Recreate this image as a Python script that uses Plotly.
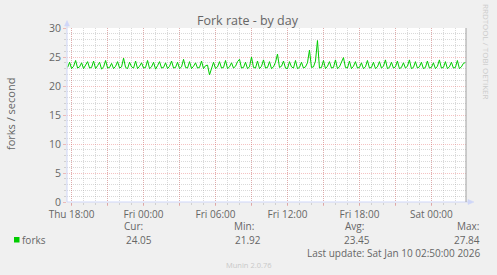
import pandas as pd
import plotly.graph_objects as go

# ---------------- data ----------------
start_time = "2026-01-08 17:40"
step = "10min"
forks = [
    23.2, 24.1, 23.0, 23.4, 24.4, 23.1, 23.3, 24.0, 23.0, 23.6,
    24.2, 23.1, 23.2, 24.3, 23.0, 23.5, 24.1, 22.9, 23.3, 24.4,
    23.1, 23.2, 23.9, 23.0, 23.4, 24.2, 23.1, 23.3, 24.8, 23.2,
    23.0, 24.1, 23.3, 23.1, 24.3, 23.0, 23.4, 24.0, 23.1, 23.2,
    24.4, 23.0, 23.3, 24.1, 22.9, 23.5, 24.2, 23.1, 23.2, 24.0,
    23.0, 23.4, 24.3, 23.1, 23.2, 24.1, 23.0, 23.3, 24.6, 23.2,
    23.1, 24.2, 23.0, 23.4, 24.0, 23.1, 23.2, 24.3, 23.0, 23.5,
    23.6, 21.92, 23.2, 24.1, 23.0, 23.3, 24.2, 23.1, 23.2, 24.4,
    23.0, 23.3, 24.0, 23.1, 23.4, 24.2, 24.6, 23.1, 23.2, 24.1,
    23.0, 23.3, 25.0, 23.2, 23.1, 24.3, 23.0, 23.4, 24.5, 23.1,
    23.2, 24.2, 23.0, 23.3, 24.1, 25.5, 23.2, 23.4, 24.3, 23.1,
    23.0, 24.2, 23.3, 23.1, 24.4, 23.0, 23.2, 24.1, 23.1, 23.3,
    24.0, 26.2, 23.2, 23.3, 24.3, 27.84, 23.1, 23.2, 24.4, 23.0,
    23.4, 24.2, 23.1, 23.2, 24.5, 23.0, 23.3, 24.1, 24.9, 23.2,
    23.1, 24.3, 23.0, 23.4, 24.2, 23.1, 23.2, 24.0, 23.0, 23.3,
    24.4, 23.1, 23.2, 24.1, 23.0, 23.3, 24.2, 23.1, 23.4, 24.5,
    23.0, 23.2, 24.1, 23.1, 23.3, 24.3, 23.0, 23.2, 24.0, 23.1,
    23.4, 24.5, 23.0, 23.2, 24.2, 23.1, 23.3, 24.1, 23.0, 23.2,
    24.3, 23.1, 23.2, 24.0, 23.0, 23.4, 24.5, 23.1, 23.2, 24.2,
    23.0, 23.3, 24.1, 23.1, 23.2, 24.4, 23.0, 23.3, 23.9, 24.05,
]
x_range = ["2026-01-08 17:37", "2026-01-10 02:53"]
major_ticks = ["2026-01-08 18:00", "2026-01-08 21:00", "2026-01-09 00:00",
               "2026-01-09 03:00", "2026-01-09 06:00", "2026-01-09 09:00",
               "2026-01-09 12:00", "2026-01-09 15:00", "2026-01-09 18:00",
               "2026-01-09 21:00", "2026-01-10 00:00"]
major_labels = ["Thu 18:00", "", "Fri 00:00", "", "Fri 06:00", "",
                "Fri 12:00", "", "Fri 18:00", "", "Sat 00:00"]
y_range = [0, 30]
series_name = "forks"
stat_names = ["Cur:", "Min:", "Avg:", "Max:"]
stat_values = ["24.05", "21.92", "23.45", "27.84"]
title = "Fork rate - by day"
y_title = "forks / second"
last_update = "Last update: Sat Jan 10 02:50:00 2026"
footer = "Munin 2.0.76"
watermark = "RRDTOOL / TOBI OETIKER"

times = pd.date_range(start=start_time, periods=len(forks), freq=step)

# ---------------- geometry ----------------
W, H = 497, 275
L, R, T, B = 67, 466, 28, 202
FONT = "Open Sans"
FC = "#666666"
AXIS = "#CFD6F8"
MAJOR = "rgba(230,110,110,0.42)"
MINOR = "rgba(160,160,160,0.40)"


def px(x):
    return (x - L) / (R - L)


def py(y):
    return (B - y) / (B - T)


fig = go.Figure()
fig.add_trace(go.Scatter(x=times, y=forks, mode="lines", name=series_name,
                         line=dict(color="#00CC00", width=1), hoverinfo="skip"))

fig.update_layout(
    width=W, height=H,
    margin=dict(l=L, r=W - R, t=T, b=H - B),
    paper_bgcolor="#F0F0F0", plot_bgcolor="#FFFFFF",
    showlegend=False,
    font=dict(family=FONT, size=10, color=FC),
)

fig.update_xaxes(
    type="date", range=x_range,
    tickmode="array", tickvals=major_ticks, ticktext=major_labels,
    showgrid=True, gridcolor=MAJOR, griddash="1px,1px", gridwidth=1,
    ticks="outside", ticklen=3, tickcolor=MAJOR, tickwidth=1,
    minor=dict(dtick=3600000, tick0="2026-01-08 18:00", showgrid=True,
               gridcolor=MINOR, griddash="1px,1px", gridwidth=1,
               ticks="outside", ticklen=2, tickcolor=MINOR),
    showline=False, zeroline=False,
    tickfont=dict(family=FONT, size=10, color=FC),
)
fig.update_yaxes(
    range=y_range, dtick=5, tick0=0,
    showgrid=True, gridcolor=MAJOR, griddash="1px,1px", gridwidth=1,
    ticks="outside", ticklen=3, tickcolor=MAJOR, tickwidth=1,
    minor=dict(dtick=1, showgrid=True, gridcolor=MINOR, griddash="1px,1px",
               gridwidth=1, ticks="outside", ticklen=2, tickcolor=MINOR),
    showline=False, zeroline=False,
    tickfont=dict(family=FONT, size=10.5, color=FC),
)

shapes = [
    # x axis line + arrow
    dict(type="line", xref="paper", yref="paper", x0=px(L), x1=px(470),
         y0=py(B), y1=py(B), line=dict(color=AXIS, width=1)),
    dict(type="path", xref="paper", yref="paper",
         path=f"M {px(468)} {py(199.5)} L {px(474)} {py(B)} L {px(468)} {py(204.5)} Z",
         fillcolor=AXIS, line=dict(color=AXIS, width=0.5)),
    # y axis line + arrow
    dict(type="line", xref="paper", yref="paper", x0=px(L), x1=px(L),
         y0=py(B), y1=py(24), line=dict(color=AXIS, width=1)),
    dict(type="path", xref="paper", yref="paper",
         path=f"M {px(64.5)} {py(26)} L {px(L)} {py(20.5)} L {px(69.5)} {py(26)} Z",
         fillcolor=AXIS, line=dict(color=AXIS, width=0.5)),
    # right frame line
    dict(type="line", xref="paper", yref="paper", x0=px(R), x1=px(R),
         y0=py(B), y1=py(T), line=dict(color="#A0A0A0", width=1)),
    # legend colour box
    dict(type="rect", xref="paper", yref="paper", x0=px(14), x1=px(19.5),
         y0=py(242.5), y1=py(237), fillcolor="#00CC00", line=dict(width=0)),
]
fig.update_layout(shapes=shapes)


def ann(x, y, text, size=10, color=FC, xanchor="left", angle=0):
    fig.add_annotation(xref="paper", yref="paper", x=px(x), y=py(y), text=text,
                       showarrow=False, xanchor=xanchor, yanchor="middle",
                       textangle=angle, borderpad=0,
                       font=dict(family=FONT, size=size, color=color))


ann(248, 20.5, title, size=12.5, xanchor="center")
ann(11, 114, y_title, size=11, xanchor="center", angle=-90)
ann(487, 52, watermark, size=8, color="#CCCCCC", xanchor="center", angle=90)
ann(20.5, 239.5, series_name)
head_x = [123, 233, 344, 456]
val_x = [125, 234, 343, 453]
for hx, vx, n, v in zip(head_x, val_x, stat_names, stat_values):
    ann(hx, 226.2, n)
    ann(vx, 239.6, v)
ann(482, 253, last_update, xanchor="right")
ann(248, 264.8, footer, size=7.5, color="#C8C8C8", xanchor="center")

fig.write_html("out.html")
